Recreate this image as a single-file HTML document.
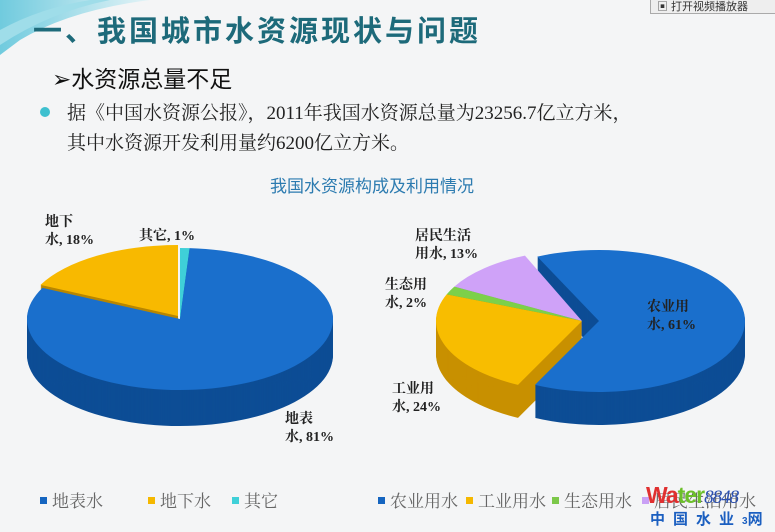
<!DOCTYPE html>
<html><head><meta charset="utf-8"><style>
body{margin:0;width:775px;height:532px;overflow:hidden;background:#f4f5f6;font-family:"Liberation Serif","Noto Serif CJK SC",serif;position:relative}
.a{position:absolute;white-space:nowrap}
.lab{position:absolute;font-size:14px;font-weight:bold;color:#222;line-height:18px;white-space:nowrap}
.leg{position:absolute;top:487px;font-size:17px;color:#666;white-space:nowrap}
.sq{display:inline-block;width:7px;height:7px;margin-right:5px;vertical-align:3px}
</style></head><body>
<svg width="775" height="532" style="position:absolute;left:0;top:0">
<defs><linearGradient id="sw" x1="0" y1="0" x2="1" y2="0"><stop offset="0" stop-color="#4fc0d8"/><stop offset="1" stop-color="#dff3f7"/></linearGradient></defs>
<path d="M0 0 L150 0 Q70 10 20 40 L0 55 Z" fill="url(#sw)" opacity="0.8"/>
<path d="M0 30 Q40 8 90 0 L110 0 Q50 12 0 45Z" fill="#9fdde9"/>
<g id="pies"></g>
</svg>
<div class="a" style="left:650px;top:-3px;width:125px;height:15px;border:1px solid #aaa;background:#eee;font-size:11px;font-family:'Liberation Sans','Noto Sans CJK SC',sans-serif;color:#333;padding-left:6px">▣ 打开视频播放器</div>
<div class="a" style="left:33px;top:8px;font-size:29px;font-weight:bold;color:#1d6a7a;font-family:'Liberation Sans','Noto Sans CJK SC',sans-serif;letter-spacing:3px">一、我国城市水资源现状与问题</div>
<div class="a" style="left:52px;top:60px;font-size:23px;color:#111;font-family:'Liberation Sans','Noto Sans CJK SC',sans-serif">➢水资源总量不足</div>
<div class="a" style="left:40px;top:107px;width:10px;height:10px;border-radius:50%;background:#3ec0cf"></div>
<div class="a" style="left:67px;top:99px;font-size:19px;color:#222;line-height:30px">据《中国水资源公报》，2011年我国水资源总量为23256.7亿立方米，<br>其中水资源开发利用量约6200亿立方米。</div>
<div class="a" style="left:270px;top:172px;font-size:17px;color:#2c7bb0;font-family:'Liberation Sans','Noto Sans CJK SC',sans-serif">我国水资源构成及利用情况</div>

<div class="lab" style="left:45px;top:214px">地下<br>水, 18%</div>
<div class="lab" style="left:139px;top:228px">其它, 1%</div>
<div class="lab" style="left:285px;top:411px">地表<br>水, 81%</div>
<div class="lab" style="left:415px;top:228px">居民生活<br>用水, 13%</div>
<div class="lab" style="left:385px;top:277px">生态用<br>水, 2%</div>
<div class="lab" style="left:392px;top:381px">工业用<br>水, 24%</div>
<div class="lab" style="left:647px;top:299px">农业用<br>水, 61%</div>

<div class="leg" style="left:40px"><span class="sq" style="background:#1565c0"></span>地表水</div>
<div class="leg" style="left:148px"><span class="sq" style="background:#f5b800"></span>地下水</div>
<div class="leg" style="left:232px"><span class="sq" style="background:#3fd0d8"></span>其它</div>
<div class="leg" style="left:378px"><span class="sq" style="background:#1565c0"></span>农业用水</div>
<div class="leg" style="left:466px"><span class="sq" style="background:#f5b800"></span>工业用水</div>
<div class="leg" style="left:552px"><span class="sq" style="background:#7cc84a"></span>生态用水</div>
<div class="leg" style="left:642px"><span class="sq" style="background:#c9a0f5"></span>居民生活用水</div>
<div class="a" style="left:646px;top:482px;font-size:23px;font-weight:bold;font-family:'Liberation Sans',sans-serif;letter-spacing:-1px"><span style="color:#e03030">Wa</span><span style="color:#6cbf2a">ter</span><span style="color:#2a4fb0;font-style:italic;font-weight:normal;font-family:'Liberation Serif',serif;font-size:19px">8848</span></div>
<div class="a" style="left:650px;top:508px;font-size:15px;font-weight:bold;color:#1b5fc0;letter-spacing:8px;font-family:'Liberation Sans','Noto Sans CJK SC',sans-serif">中国水业<span style="font-size:10px;letter-spacing:0">3</span>网</div>
<script>
function pt(cx,cy,rx,ry,a){a=a*Math.PI/180;return [cx+rx*Math.cos(a),cy+ry*Math.sin(a)];}
function sl(cx,cy,rx,ry,a0,a1,fill){var p0=pt(cx,cy,rx,ry,a0),p1=pt(cx,cy,rx,ry,a1);var lg=(a1-a0)>180?1:0;
return '<path d="M'+cx+' '+cy+' L'+p0[0]+' '+p0[1]+' A'+rx+' '+ry+' 0 '+lg+' 1 '+p1[0]+' '+p1[1]+' Z" fill="'+fill+'"/>';}
function pie(cx,cy,rx,ry,d,sls){var s='';
for(var k=d;k>0;k--){sls.forEach(function(q){var o=q[4]||[0,0];s+=sl(cx+o[0],cy+o[1]+k,rx,ry,q[0],q[1],q[3]);});}
sls.forEach(function(q){var o=q[4]||[0,0];s+=sl(cx+o[0],cy+o[1],rx,ry,q[0],q[1],q[2]);});return s;}
var h='';
h+=pie(180,319,153,71,36,[[206,270,'#f8b900','#b88600',[-2,-3]],[270,273.6,'#3fd0d8','#1a9aa0'],[273.6,566,'#1a6fcc','#0d4d95']]);
h+=pie(582,321,146,71,33,[[209,247,'#cfa2f8','#9a74c0'],[202,209,'#7cd04a','#4f9a2a'],[245,476,'#1a6fcc','#0d4d95',[17,0]],[116,202,'#f8bd00','#c89000']]);
document.getElementById('pies').innerHTML=h;
</script>
</body></html>
